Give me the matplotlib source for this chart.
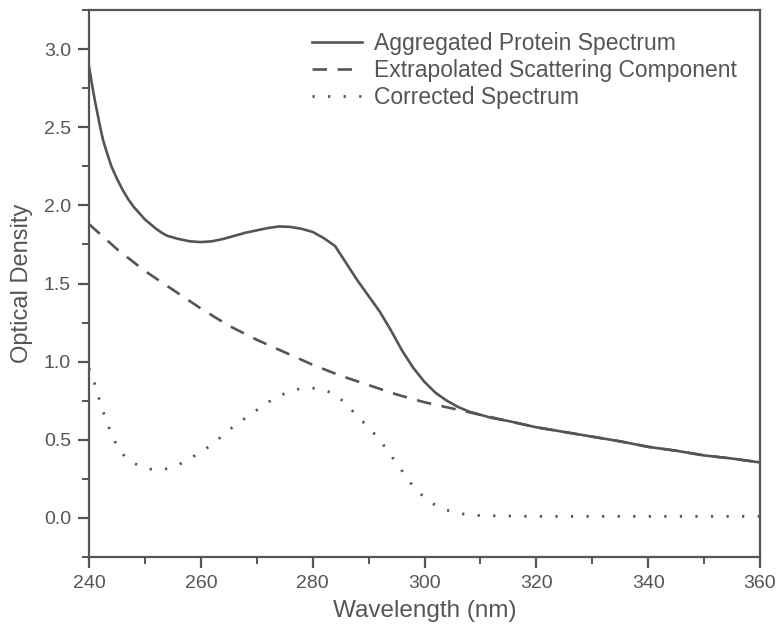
import matplotlib
matplotlib.use("Agg")
import matplotlib.pyplot as plt
from matplotlib.ticker import MultipleLocator

# ---- data ----
wl_agg = [240, 240.5, 241, 241.5, 242, 242.5, 243, 244, 245, 246, 247, 248, 249, 250, 251,
          252, 253, 254, 256, 258, 260,
          262, 264, 266, 268, 270, 272, 274, 276, 278, 280, 282, 284, 286, 288, 290,
          292, 294, 296, 298, 300, 302, 304, 306, 308, 310, 312, 315, 320, 325, 330,
          335, 340, 345, 350, 355, 360]
od_agg = [2.89, 2.78, 2.68, 2.59, 2.50, 2.42, 2.36, 2.25, 2.17, 2.10, 2.04, 1.99, 1.95, 1.91, 1.88,
          1.85, 1.825, 1.805, 1.785, 1.77, 1.765,
          1.77, 1.785, 1.805, 1.825, 1.84, 1.855, 1.865, 1.862, 1.85, 1.83, 1.79, 1.74, 1.63, 1.52, 1.42,
          1.32, 1.20, 1.07, 0.96, 0.87, 0.80, 0.75, 0.71, 0.68, 0.66, 0.64, 0.62, 0.58, 0.55, 0.52,
          0.49, 0.455, 0.43, 0.40, 0.38, 0.355]

wl_scat = [240, 245, 250, 255, 260, 265, 270, 275, 280, 285, 290, 295, 300, 305, 310,
           315, 320, 325, 330, 335, 340, 345, 350, 355, 360]
od_scat = [1.88, 1.72, 1.58, 1.46, 1.34, 1.23, 1.14, 1.06, 0.98, 0.91, 0.85, 0.79, 0.74, 0.70, 0.66,
           0.62, 0.58, 0.55, 0.52, 0.49, 0.455, 0.43, 0.40, 0.38, 0.355]

wl_corr = [240, 241, 242, 243, 244, 245, 246, 247, 248, 250, 252, 254, 256, 258, 260,
           262, 264, 266, 268, 270, 272, 274, 276, 278, 280, 282, 284, 286, 288, 290,
           292, 294, 296, 298, 300, 302, 304, 306, 308, 310, 320, 340, 360]
od_corr = [0.96, 0.86, 0.74, 0.63, 0.54, 0.46, 0.41, 0.37, 0.35, 0.32, 0.305, 0.315, 0.34, 0.38, 0.42,
           0.47, 0.53, 0.59, 0.64, 0.69, 0.74, 0.78, 0.81, 0.83, 0.83, 0.82, 0.79, 0.73, 0.65, 0.58,
           0.50, 0.40, 0.30, 0.20, 0.13, 0.08, 0.05, 0.03, 0.02, 0.015, 0.01, 0.01, 0.01]

labels = ["Aggregated Protein Spectrum", "Extrapolated Scattering Component", "Corrected Spectrum"]
x_ticks = [240, 260, 280, 300, 320, 340, 360]
y_ticks = [0.0, 0.5, 1.0, 1.5, 2.0, 2.5, 3.0]

# ---- style ----
plt.rcParams['font.family'] = ['Liberation Sans', 'DejaVu Sans']
line_c = '#555555'
text_c = '#555555'

fig = plt.figure(figsize=(7.78, 6.27), dpi=100)
ax = fig.add_axes([89/778, 1 - 557/627, (760 - 89)/778, (557 - 10)/627])

ax.plot(wl_agg, od_agg, color=line_c, lw=1.9, label=labels[0])
ax.plot(wl_scat, od_scat, color=line_c, lw=1.9, linestyle=(0, (5.5, 4)), label=labels[1])
ax.plot(wl_corr, od_corr, color=line_c, lw=2.0, linestyle=(0, (0.8, 4.8)), label=labels[2])

ax.set_xlim(240, 360)
ax.set_ylim(-0.25, 3.25)
ax.set_xticks(x_ticks)
ax.set_yticks(y_ticks)
ax.set_xticklabels([str(v) for v in x_ticks])
ax.set_yticklabels([f"{v:.1f}" for v in y_ticks])
ax.xaxis.set_minor_locator(MultipleLocator(10))
ax.yaxis.set_minor_locator(MultipleLocator(0.25))

for s in ax.spines.values():
    s.set_color(line_c)
    s.set_linewidth(1.6)
ax.tick_params(which='major', direction='out', length=8, width=1.6, colors=line_c,
               labelsize=14, labelcolor=text_c, pad=5)
ax.tick_params(which='minor', direction='out', length=5, width=1.4, colors=line_c)
ax.tick_params(top=False, right=False, which='both')

ax.set_xlabel("Wavelength (nm)", fontsize=17.5, color=text_c, labelpad=6)
ax.set_ylabel("Optical Density", fontsize=17, color=text_c, labelpad=8)

leg = ax.legend(loc='upper left', bbox_to_anchor=(0.332, 0.96), frameon=False,
                fontsize=16.5, handlelength=2.2, handletextpad=0.5, labelspacing=0.17,
                borderpad=0, borderaxespad=0)
for t in leg.get_texts():
    t.set_color(text_c)

fig.savefig("out.png", dpi=100)
